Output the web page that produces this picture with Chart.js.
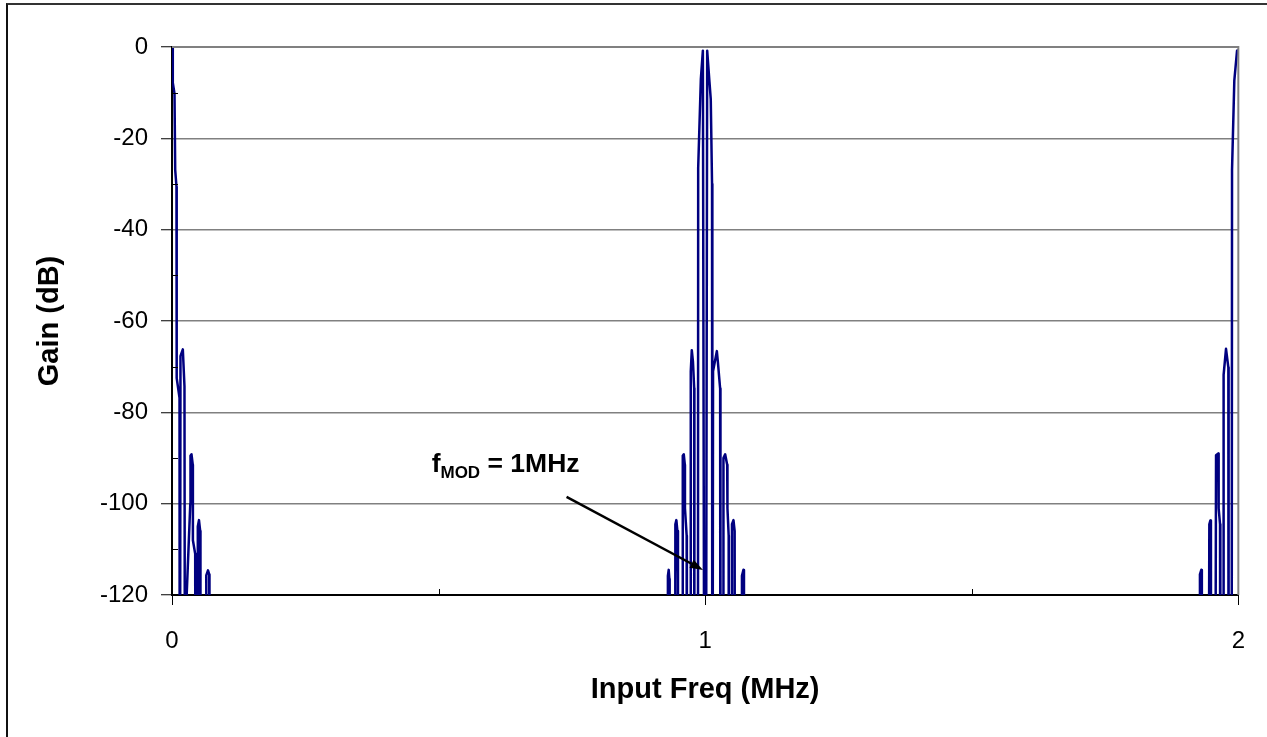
<!DOCTYPE html>
<html>
<head>
<meta charset="utf-8">
<script src="https://cdn.jsdelivr.net/npm/chart.js@4.4.1/dist/chart.umd.min.js"></script>
<style>
  html, body { margin: 0; padding: 0; background: #fff; overflow: hidden; }
  #wrap { position: relative; width: 1267px; height: 737px; }
  #frame { position: absolute; left: 6px; top: 3px; width: 1300px; height: 800px;
           border-left: 2px solid #111; border-top: 2px solid #333; pointer-events: none; }
  canvas { position: absolute; left: 0; top: 0; }
</style>
</head>
<body>
<div id="wrap">
  <canvas id="chart" width="1267" height="737"></canvas>
  <div id="frame"></div>
</div>
<script>
// response around DC (right half only)
const DC_FREQ = [0.0000, 0.0015, 0.0047, 0.0060, 0.0084, 0.0088, 0.0141, 0.0146, 0.0159, 0.0203,
  0.0234, 0.0248, 0.0272, 0.0343, 0.0347, 0.0366, 0.0390, 0.0392, 0.0435, 0.0441,
  0.0478, 0.0484, 0.0506, 0.0529, 0.0534, 0.0638, 0.0643, 0.0675, 0.0698, 0.0703];
const DC_GAIN = [0, -7.8, -10.2, -26.9, -30.6, -72.5, -76.8, -200, -67.7, -66.2,
  -74.3, -200, -121, -100, -89.5, -89.2, -91.5, -108, -111, -200,
  -200, -105, -103.6, -106, -200, -200, -115.7, -114.6, -115.5, -200];

// response around fMOD = 1 MHz
const MOD_FREQ = [0.9291, 0.9301, 0.9316, 0.9329, 0.9334, 0.9434, 0.9441, 0.9460, 0.9479, 0.9490,
  0.9494, 0.9576, 0.9580, 0.9599, 0.9619, 0.9621, 0.9653, 0.9657, 0.9726, 0.9730,
  0.9749, 0.9771, 0.9794, 0.9798, 0.9863, 0.9869, 0.9919, 0.9957, 0.9991, 1.0009,
  1.0038, 1.0081, 1.0105, 1.0129, 1.0135, 1.0148, 1.0219, 1.0238, 1.0281, 1.0287,
  1.0338, 1.0343, 1.0375, 1.0413, 1.0418, 1.0441, 1.0444, 1.0497, 1.0503, 1.0531,
  1.0553, 1.0563, 1.0684, 1.0690, 1.0718, 1.0728, 1.0731];
const MOD_GAIN = [-200, -115.8, -114.5, -116.5, -200, -200, -104.5, -103.6, -106, -117,
  -200, -200, -89.5, -89.2, -91.5, -101, -107, -200, -200, -71,
  -66.4, -68.9, -74.7, -200, -200, -26.5, -7, -0.8, -200, -200,
  -0.8, -7.7, -11.4, -30, -200, -71, -66.6, -68.9, -74.8, -200,
  -200, -90, -89.2, -91.5, -101, -107, -200, -200, -104.5, -103.6,
  -106, -200, -200, -115.8, -114.5, -116.5, -200];

// response around 2 MHz (left half only)
const TWO_FREQ = [1.9273, 1.9280, 1.9306, 1.9316, 1.9321, 1.9434, 1.9456, 1.9475, 1.9486, 1.9490,
  1.9559, 1.9582, 1.9625, 1.9631, 1.9657, 1.9663, 1.9719, 1.9724, 1.9769, 1.9813,
  1.9818, 1.9873, 1.9882, 1.9925, 1.9976, 1.9990];
const TWO_GAIN = [-200, -115.5, -114.5, -116.5, -200, -200, -104.5, -103.7, -106, -200,
  -200, -89.4, -89.0, -101, -104.5, -200, -200, -71.8, -66.1, -70.2,
  -200, -200, -26.9, -7.3, -0.8, -0.5];

const X_MINOR = [0.5, 1.5];
const Y_MINOR = [-110, -90, -70, -50, -30, -10];

// annotation, in data units
const NOTE_AT = { x: 0.487, y: -93 };
const ARROW_FROM = { x: 0.740, y: -98.5 };
const ARROW_TO = { x: 0.996, y: -114.5 };

const FONT = "'Liberation Sans', Arial, sans-serif";
const LINE_COLOR = '#000080';

function toPoints(xs, ys) {
  return xs.map((x, i) => ({ x, y: ys[i] }));
}

const points = [
  ...toPoints(DC_FREQ, DC_GAIN),
  ...toPoints(MOD_FREQ, MOD_GAIN),
  ...toPoints(TWO_FREQ, TWO_GAIN),
];

const extrasPlugin = {
  id: 'extras',
  afterDraw(chart) {
    const { ctx, chartArea: a, scales: { x, y } } = chart;
    ctx.save();
    // plot frame, top/right
    ctx.strokeStyle = '#808080';
    ctx.lineWidth = 2;
    ctx.beginPath();
    ctx.moveTo(a.left, a.top);
    ctx.lineTo(a.right, a.top);
    ctx.lineTo(a.right, a.bottom);
    ctx.stroke();

    // minor ticks, inside
    ctx.strokeStyle = '#000';
    ctx.lineWidth = 1;
    ctx.beginPath();
    for (const v of Y_MINOR) {
      const py = Math.round(y.getPixelForValue(v)) + 0.5;
      ctx.moveTo(a.left, py);
      ctx.lineTo(a.left + 6, py);
    }
    for (const v of X_MINOR) {
      const px = Math.round(x.getPixelForValue(v)) + 0.5;
      ctx.moveTo(px, a.bottom);
      ctx.lineTo(px, a.bottom - 6);
    }
    ctx.stroke();

    // fMOD label
    ctx.fillStyle = '#000';
    ctx.textBaseline = 'alphabetic';
    ctx.textAlign = 'left';
    let tx = x.getPixelForValue(NOTE_AT.x);
    const ty = y.getPixelForValue(NOTE_AT.y);
    ctx.font = `bold 26.5px ${FONT}`;
    ctx.fillText('f', tx, ty);
    tx += ctx.measureText('f').width;
    ctx.font = `bold 17px ${FONT}`;
    ctx.fillText('MOD', tx, ty + 6);
    tx += ctx.measureText('MOD').width;
    ctx.font = `bold 26.5px ${FONT}`;
    ctx.fillText(' = 1MHz', tx, ty);

    // arrow
    const x0 = x.getPixelForValue(ARROW_FROM.x), y0 = y.getPixelForValue(ARROW_FROM.y);
    const x1 = x.getPixelForValue(ARROW_TO.x), y1 = y.getPixelForValue(ARROW_TO.y);
    const ang = Math.atan2(y1 - y0, x1 - x0);
    const head = 13, half = 4.5;
    const bx = x1 - head * Math.cos(ang), by = y1 - head * Math.sin(ang);
    ctx.strokeStyle = '#000';
    ctx.lineWidth = 2.5;
    ctx.beginPath();
    ctx.moveTo(x0, y0);
    ctx.lineTo(bx, by);
    ctx.stroke();
    ctx.beginPath();
    ctx.moveTo(x1, y1);
    ctx.lineTo(bx + half * Math.sin(ang), by - half * Math.cos(ang));
    ctx.lineTo(bx - half * Math.sin(ang), by + half * Math.cos(ang));
    ctx.closePath();
    ctx.fill();
    ctx.restore();
  },
};

new Chart(document.getElementById('chart').getContext('2d'), {
  type: 'line',
  data: {
    datasets: [
      {
        data: points,
        borderColor: LINE_COLOR,
        borderWidth: 2.5,
        borderJoinStyle: 'round',
        pointRadius: 0,
        tension: 0,
        fill: false,
      },
    ],
  },
  options: {
    responsive: false,
    animation: false,
    devicePixelRatio: 1,
    layout: { padding: { top: 47, right: 28, left: 0, bottom: 0 } },
    plugins: { legend: { display: false }, tooltip: { enabled: false } },
    scales: {
      x: {
        type: 'linear',
        min: 0,
        max: 2,
        ticks: { stepSize: 1, color: '#000', padding: 22, font: { family: FONT, size: 24 } },
        grid: { drawOnChartArea: false, tickLength: 10, tickColor: '#000', tickWidth: 1 },
        border: { color: '#000', width: 2 },
        title: {
          display: true,
          text: 'Input Freq (MHz)',
          color: '#000',
          font: { family: FONT, size: 29, weight: 'bold' },
          padding: { top: 0, bottom: 30 },
        },
        afterFit(s) { s.height = 142; },
      },
      y: {
        min: -120,
        max: 0,
        ticks: { stepSize: 20, color: '#000', padding: 13, font: { family: FONT, size: 24 } },
        grid: { color: '#808080', lineWidth: 1.5, tickLength: 11, tickColor: '#000', tickWidth: 1 },
        border: { color: '#000', width: 2 },
        title: {
          display: true,
          text: 'Gain (dB)',
          color: '#000',
          font: { family: FONT, size: 29, weight: 'bold' },
          padding: { top: 33, bottom: 0 },
        },
        afterFit(s) { s.width = 172; },
      },
    },
  },
  plugins: [extrasPlugin],
});
</script>
</body>
</html>
